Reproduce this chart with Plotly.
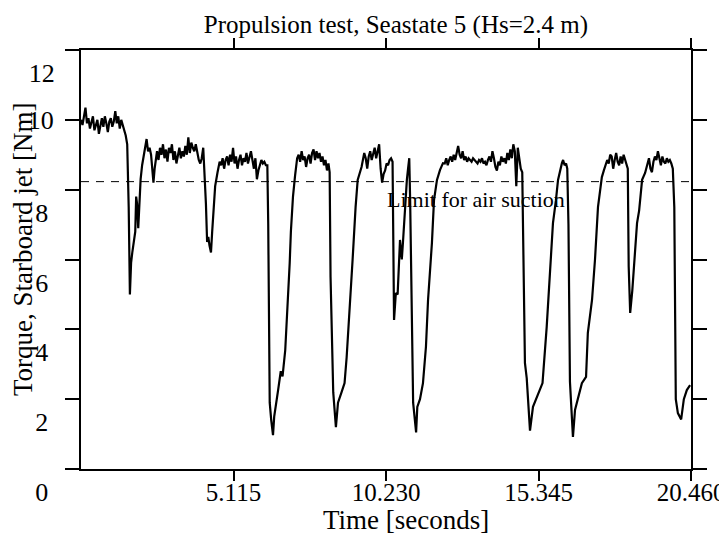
import plotly.graph_objects as go

# ---- data (time in s, torque in Nm) ----
t1 = [0.00, 0.05, 0.10, 0.15, 0.20, 0.25, 0.30, 0.35, 0.40, 0.45, 0.50, 0.55, 0.60, 0.65, 0.70, 0.75,
      0.80, 0.85, 0.90, 0.95, 1.00, 1.05, 1.10, 1.15, 1.20, 1.25, 1.30, 1.35, 1.40, 1.45, 1.50]
v1 = [10.0, 9.85, 10.1, 10.35, 9.9, 10.05, 9.75, 9.95, 10.1, 9.7, 9.9, 10.0, 9.6, 9.85, 10.05, 9.8,
      10.1, 9.9, 9.65, 9.95, 10.05, 9.8, 9.95, 10.25, 9.9, 10.1, 9.75, 10.0, 9.85, 9.65, 9.55]

t2 = [1.55, 1.60, 1.64, 1.68, 1.72, 1.78, 1.82, 1.85, 1.88, 1.92, 1.96, 2.00, 2.05, 2.10, 2.15, 2.20,
      2.25, 2.30, 2.35, 2.40, 2.43, 2.47, 2.52]
v2 = [9.3, 7.5, 5.0, 5.9, 6.2, 6.6, 6.8, 7.8, 7.6, 6.9, 7.9, 8.3, 8.7, 9.0, 9.3, 9.45,
      9.1, 9.2, 9.0, 8.6, 8.2, 8.6, 8.9]

t3 = [2.55, 2.60, 2.65, 2.70, 2.75, 2.80, 2.85, 2.90, 2.95, 3.00, 3.05, 3.10, 3.15, 3.20, 3.25, 3.30,
      3.35, 3.40, 3.45, 3.50, 3.55, 3.60, 3.65, 3.70, 3.75, 3.80, 3.85, 3.90, 3.95, 4.00, 4.05]
v3 = [9.1, 8.85, 9.2, 9.0, 9.3, 8.9, 9.15, 8.8, 9.2, 9.05, 9.3, 8.85, 9.1, 8.75, 9.05, 9.2,
      8.9, 9.1, 8.95, 9.25, 9.0, 9.5, 9.05, 9.35, 9.2, 9.1, 9.3, 9.0, 8.85, 8.75, 8.9]

t4 = [4.10, 4.15, 4.19, 4.23, 4.27, 4.31, 4.36, 4.40, 4.44, 4.50, 4.58, 4.65]
v4 = [9.2, 8.4, 7.6, 6.5, 6.65, 6.4, 6.2, 6.8, 7.4, 8.1, 8.5, 8.8]

t5 = [4.70, 4.75, 4.80, 4.85, 4.90, 4.95, 5.00, 5.05, 5.10, 5.15, 5.20, 5.25, 5.30, 5.35, 5.40, 5.45,
      5.50, 5.55, 5.60, 5.65, 5.70, 5.75, 5.80, 5.85, 5.90, 5.95, 6.00, 6.05, 6.10, 6.15, 6.20]
v5 = [8.7, 8.9, 8.6, 8.85, 8.95, 8.7, 9.0, 8.8, 9.2, 8.75, 8.95, 8.6, 8.85, 9.0, 8.7, 8.9,
      8.8, 9.05, 8.75, 8.95, 9.1, 8.85, 8.6, 8.9, 8.3, 8.55, 8.7, 8.85, 8.75, 8.8, 8.7]

t6 = [6.25, 6.28, 6.30, 6.33, 6.38, 6.44, 6.48, 6.54, 6.61, 6.70, 6.76, 6.85, 6.90, 6.95, 7.00, 7.04,
      7.11, 7.18, 7.25]
v6 = [8.7, 7.0, 4.0, 1.9, 1.4, 0.97, 1.5, 1.8, 2.25, 2.8, 2.65, 3.4, 4.2, 4.9, 5.9, 6.8,
      7.8, 8.4, 8.9]

t7 = [7.30, 7.35, 7.40, 7.45, 7.50, 7.55, 7.60, 7.65, 7.70, 7.75, 7.80, 7.85, 7.90, 7.95, 8.00, 8.05,
      8.10, 8.15, 8.20, 8.25, 8.30]
v7 = [9.0, 8.8, 9.1, 8.85, 8.95, 8.65, 8.9, 9.0, 8.75, 9.05, 9.15, 8.85, 9.1, 8.9, 9.05, 8.8,
      8.95, 8.7, 8.85, 8.55, 8.75]

t8 = [8.34, 8.37, 8.42, 8.46, 8.55, 8.62, 8.74, 8.84, 8.91, 9.01, 9.11, 9.21, 9.28, 9.41, 9.50]
v8 = [8.5, 5.5, 3.2, 2.2, 1.2, 1.9, 2.2, 2.46, 3.2, 4.47, 6.0, 7.5, 8.28, 8.65, 9.05]

t9 = [9.55, 9.60, 9.65, 9.70, 9.75, 9.80, 9.85, 9.90, 9.95, 10.00, 10.05, 10.10, 10.15, 10.20, 10.25,
      10.30, 10.35, 10.40]
v9 = [8.9, 8.6, 8.95, 9.1, 8.85, 9.0, 9.2, 8.9, 9.15, 9.3, 8.6, 8.2, 8.45, 8.55, 8.75,
      8.7, 8.85, 8.9]

t10 = [10.45, 10.47, 10.50, 10.56, 10.62, 10.70, 10.76, 10.80, 10.87, 10.93, 10.97, 11.01, 11.04,
       11.10, 11.14, 11.24, 11.28, 11.37, 11.47, 11.57, 11.64, 11.77, 11.84, 11.94, 12.04, 12.14]
v10 = [8.8, 6.0, 4.27, 5.04, 5.0, 6.56, 6.0, 6.5, 7.6, 8.28, 8.6, 8.9, 7.7,
       3.9, 1.9, 1.05, 1.78, 2.0, 2.46, 3.5, 4.84, 6.47, 7.7, 8.28, 8.56, 8.76]

t11 = [12.20, 12.25, 12.30, 12.35, 12.40, 12.45, 12.50, 12.55, 12.60, 12.65,
       12.70, 12.75, 12.80, 12.85, 12.90, 12.95, 13.00, 13.05, 13.10, 13.15,
       13.20, 13.25, 13.30, 13.35, 13.40, 13.45, 13.50, 13.55, 13.60, 13.65,
       13.70, 13.75, 13.80, 13.85, 13.90, 13.95, 14.00, 14.05, 14.10, 14.15,
       14.20, 14.25, 14.30, 14.35, 14.40, 14.45, 14.50, 14.55, 14.60, 14.65,
       14.70, 14.75]
v11 = [8.75, 8.9, 8.7, 8.85, 8.95, 8.8, 9.0, 8.85, 9.05, 9.25,
       9.0, 8.9, 9.1, 8.85, 8.95, 8.8, 8.9, 8.85, 8.8, 8.9,
       8.85, 8.8, 8.75, 8.85, 8.8, 8.9, 8.75, 8.8, 8.7, 8.85,
       8.95, 8.8, 9.1, 8.9, 8.65, 8.55, 8.8, 8.7, 8.95, 8.8,
       8.9, 8.75, 9.05, 8.85, 9.15, 8.9, 9.3, 9.1, 8.1, 9.2,
       8.9, 8.6]

t12 = [14.80, 14.84, 14.89, 14.95, 15.06, 15.16, 15.29, 15.38, 15.48, 15.62,
       15.73, 15.83, 15.93, 16.00, 16.13, 16.17, 16.22, 16.27, 16.31, 16.35,
       16.40, 16.50, 16.57, 16.67, 16.80, 16.94, 17.00, 17.14, 17.24, 17.34,
       17.47, 17.54]
v12 = [8.5, 6.0, 3.04, 2.6, 1.1, 1.78, 2.06, 2.26, 2.46, 4.07,
       5.8, 7.04, 7.7, 8.28, 8.76, 8.85, 8.7, 8.75, 8.6, 7.0,
       2.5, 0.92, 1.69, 2.0, 2.46, 2.64, 3.9, 4.84, 6.0, 7.5,
       8.36, 8.56]

t13 = [17.60, 17.65, 17.70, 17.75, 17.80, 17.85, 17.90, 17.95, 18.00, 18.05, 18.10, 18.15, 18.20,
       18.25, 18.30]
v13 = [8.7, 8.85, 8.75, 9.0, 8.95, 8.6, 8.85, 9.05, 8.8, 8.7, 8.95, 8.75, 9.0, 8.85, 8.7]

t14 = [18.34, 18.37, 18.42, 18.49, 18.55, 18.65, 18.72, 18.82, 18.92]
v14 = [8.6, 5.8, 4.47, 5.1, 5.8, 7.04, 7.4, 8.28, 8.48]

t15 = [19.00, 19.05, 19.10, 19.15, 19.20, 19.25, 19.30, 19.35, 19.40, 19.45, 19.50, 19.55, 19.60,
       19.65, 19.70, 19.75, 19.80, 19.85]
v15 = [8.75, 8.9, 8.6, 8.5, 8.8, 8.95, 8.85, 9.1, 8.9, 8.7, 8.95, 8.8, 8.75, 8.9, 8.8, 8.85, 8.75, 8.6]

t16 = [19.90, 19.95, 20.02, 20.13, 20.22, 20.32, 20.43]
v16 = [7.5, 2.0, 1.6, 1.42, 2.0, 2.26, 2.4]

air_limit_nm = 8.23
x_range = [0, 20.46]
y_range = [0, 12]
x_tick_vals = [5.115, 10.230, 15.345, 20.460]
x_tick_text = ["5.115", "10.230", "15.345", "20.460"]
y_tick_vals = [0, 2, 4, 6, 8, 10, 12]
y_tick_text = ["0\u00a0", "2\u00a0", "4\u00a0", "6\u00a0", "8\u00a0", "", "12"]

time_s = t1 + t2 + t3 + t4 + t5 + t6 + t7 + t8 + t9 + t10 + t11 + t12 + t13 + t14 + t15 + t16
torque = v1 + v2 + v3 + v4 + v5 + v6 + v7 + v8 + v9 + v10 + v11 + v12 + v13 + v14 + v15 + v16

FONT = "Liberation Serif"

fig = go.Figure()
fig.add_trace(go.Scatter(x=time_s, y=torque, mode="lines",
                         line=dict(color="black", width=2.2), hoverinfo="skip"))
fig.add_trace(go.Scatter(x=x_range, y=[air_limit_nm, air_limit_nm], mode="lines",
                         line=dict(color="black", width=1, dash="8px,7px"), hoverinfo="skip"))
# empty traces so the overlay axes (top ticks, unshifted "10" label) are drawn
fig.add_trace(go.Scatter(x=[None], y=[None], yaxis="y2", mode="lines", hoverinfo="skip"))
fig.add_trace(go.Scatter(x=[None], y=[None], xaxis="x2", mode="lines", hoverinfo="skip"))

fig.add_annotation(x=13.25, y=7.72, xref="x", yref="y", text="Limit for air suction",
                   showarrow=False, font=dict(family=FONT, size=22, color="black"))
fig.add_annotation(x=0.533, y=-0.121, xref="paper", yref="paper", text="Time [seconds]",
                   showarrow=False, xanchor="center", yanchor="middle",
                   font=dict(family=FONT, size=27, color="black"))
fig.add_annotation(x=-0.095, y=0.525, xref="paper", yref="paper",
                   text="Torque, Starboard jet [Nm]", textangle=-90,
                   showarrow=False, xanchor="center", yanchor="middle",
                   font=dict(family=FONT, size=27, color="black"))

axis_common = dict(showline=True, linewidth=2, linecolor="black", mirror="ticks",
                   ticks="outside", tickwidth=2, tickcolor="black",
                   showgrid=False, zeroline=False, automargin=False)

fig.update_layout(
    width=719, height=536,
    margin=dict(l=73, r=36, t=42, b=75, autoexpand=False),
    paper_bgcolor="white", plot_bgcolor="white",
    showlegend=False,
    font=dict(family=FONT, color="black"),
    title=dict(text="Propulsion test, Seastate 5 (Hs=2.4 m)", x=0.5396, xanchor="center",
               y=0.970, yanchor="middle", font=dict(family=FONT, size=25, color="black")),
    xaxis=dict(range=x_range, tickvals=x_tick_vals, ticktext=x_tick_text, ticklen=10,
               ticklabelstandoff=-10,
               tickfont=dict(family=FONT, size=25, color="black"),
               **axis_common),
    xaxis2=dict(overlaying="x", side="top", anchor="y", range=x_range, tickvals=x_tick_vals,
                ticks="outside", ticklen=10, tickwidth=2, tickcolor="black",
                showticklabels=False, showline=False, showgrid=False, zeroline=False,
                automargin=False),
    yaxis=dict(range=y_range, tickvals=y_tick_vals, ticktext=y_tick_text, ticklen=14,
               ticklabelshift=23, ticklabelstandoff=5,
               tickfont=dict(family=FONT, size=26, color="black"),
               **axis_common),
    yaxis2=dict(overlaying="y", side="left", anchor="x", range=y_range, tickvals=[10],
                ticktext=["10"], ticks="outside", ticklen=14, tickcolor="rgba(0,0,0,0)",
                ticklabelstandoff=7,
                showline=False, showgrid=False, zeroline=False, automargin=False,
                tickfont=dict(family=FONT, size=26, color="black")),
)

fig.write_html("out.html")
